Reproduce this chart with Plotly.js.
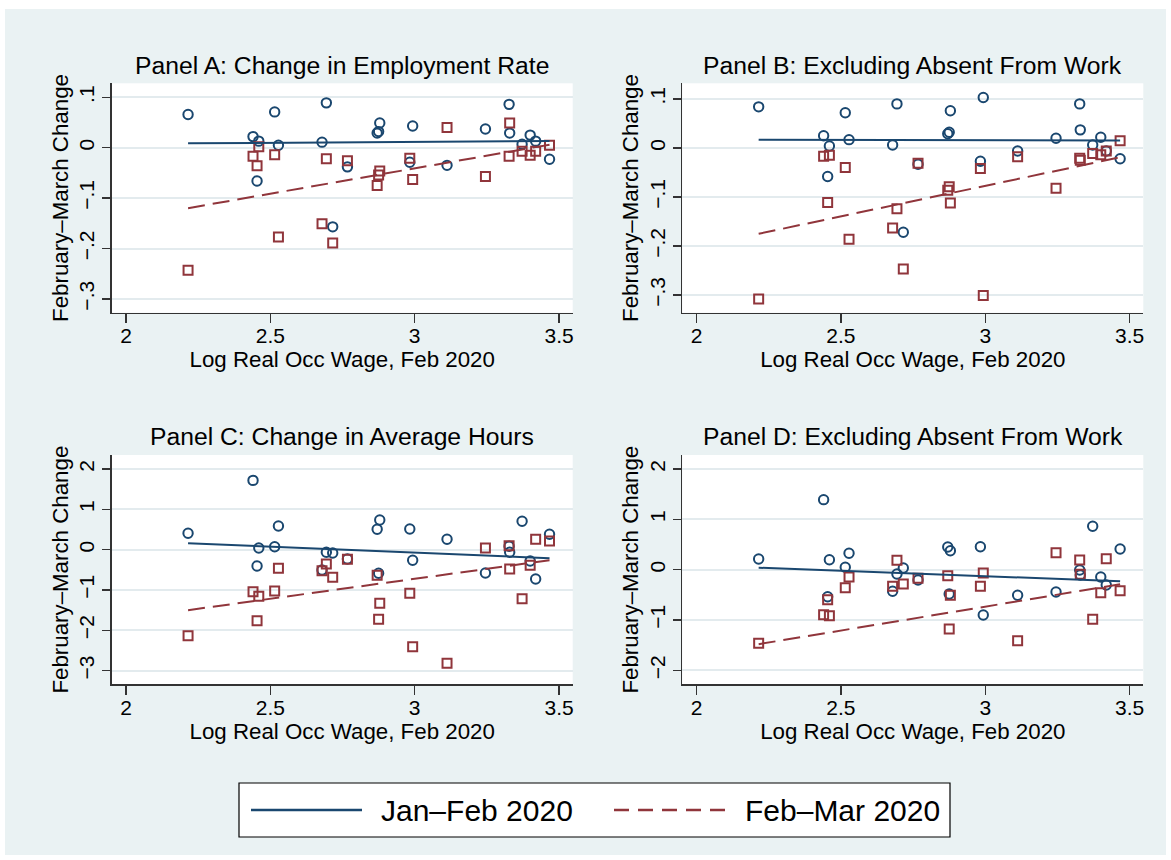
<!DOCTYPE html>
<html><head><meta charset="utf-8">
<script src="https://cdn.plot.ly/plotly-3.0.1.min.js"></script>
<style>html,body{margin:0;padding:0;background:#fff}</style>
</head><body><div id="chart" style="width:1171px;height:860px"></div>
<script>
// ---- data ----
const occWage = [2.215, 2.440, 2.454, 2.460, 2.515, 2.528, 2.679, 2.694, 2.716, 2.767, 2.870, 2.875, 2.879,
                 2.983, 2.993, 3.112, 3.245, 3.327, 3.329, 3.372, 3.400, 3.419, 3.467];

const janFebA = [0.066, 0.022, -0.066, 0.013, 0.071, 0.005, 0.011, 0.089, -0.157, -0.038, 0.029, 0.032, 0.049,
                 -0.029, 0.043, -0.035, 0.037, 0.086, 0.029, 0.007, 0.025, 0.013, -0.023];
const febMarA = [-0.243, -0.017, -0.036, 0.002, -0.014, -0.177, -0.151, -0.022, -0.189, -0.026, -0.075, -0.054, -0.046,
                 -0.021, -0.063, 0.040, -0.057, -0.017, 0.049, -0.007, -0.015, -0.007, 0.005];

const janFebB = [0.084, 0.025, -0.058, 0.004, 0.072, 0.017, 0.006, 0.090, -0.172, -0.033, 0.029, 0.032, 0.076,
                 -0.027, 0.103, -0.006, 0.020, 0.090, 0.037, 0.006, 0.022, -0.006, -0.022];
const febMarB = [-0.308, -0.017, -0.111, -0.015, -0.040, -0.186, -0.163, -0.124, -0.247, -0.031, -0.086, -0.079, -0.112,
                 -0.042, -0.301, -0.018, -0.082, -0.021, -0.025, -0.011, -0.014, -0.006, 0.015];

const janFebC = [0.407, 1.72, -0.404, 0.042, 0.074, 0.588, -0.504, -0.065, -0.082, -0.231, 0.506, -0.586, 0.737,
                 0.514, -0.263, 0.258, -0.578, 0.084, -0.065, 0.705, -0.28, -0.727, 0.382];
const febMarC = [-2.134, -1.042, -1.762, -1.157, -1.025, -0.462, -0.521, -0.355, -0.685, -0.238, -0.635, -1.727, -1.33,
                 -1.082, -2.407, -2.82, 0.042, 0.099, -0.479, -1.216, -0.387, 0.258, 0.216];

const janFebD = [0.213, 1.392, -0.537, 0.199, 0.048, 0.326, -0.429, -0.085, 0.034, -0.205, 0.451, -0.483, 0.378,
                 0.457, -0.9, -0.509, -0.443, -0.006, -0.105, 0.863, -0.145, -0.304, 0.412];
const febMarD = [-1.463, -0.895, -0.596, -0.914, -0.358, -0.145, -0.33, 0.187, -0.284, -0.172, -0.119, -1.179, -0.509,
                 -0.33, -0.066, -1.412, 0.338, 0.193, -0.092, -0.986, -0.457, 0.219, -0.417];

// fitted-line values at the lowest and highest wage
const fitJanA = [0.0087, 0.0133], fitFebA = [-0.120, 0.006];
const fitJanB = [0.017, 0.0155],  fitFebB = [-0.175, -0.019];
const fitJanC = [0.159, -0.21],   fitFebC = [-1.50, -0.26];
const fitJanD = [0.04, -0.23],    fitFebD = [-1.48, -0.29];

const panelTitles = ['Panel A: Change in Employment Rate', 'Panel B: Excluding Absent From Work',
                     'Panel C: Change in Average Hours', 'Panel D: Excluding Absent From Work'];
const seriesNames = ['Jan–Feb 2020', 'Feb–Mar 2020'];
const xTickVals = [2, 2.5, 3, 3.5];
const xTickText = ['2', '2.5', '3', '3.5'];
const yTickValsAB = [0.1, 0, -0.1, -0.2, -0.3];
const yTickTextAB = ['.1', '0', '−.1', '−.2', '−.3'];
const yTickValsC = [2, 1, 0, -1, -2, -3];
const yTickTextC = ['2', '1', '0', '−1', '−2', '−3'];
const yTickValsD = [2, 1, 0, -1, -2];
const yTickTextD = ['2', '1', '0', '−1', '−2'];
const xTitle = 'Log Real Occ Wage, Feb 2020';
const yTitle = 'February–March Change';

// ---- styling ----
const W = 1171, H = 860;
const NAVY = '#1A476F', MAROON = '#90353B', BG = '#EAF2F3', GRID = '#E3EBEE', AX = '#333333';
const FONT = 'Liberation Sans, Arial, Helvetica, sans-serif';
const px = v => v / W, py = v => 1 - v / H;

const colDom = [[111.7, 572.7], [682.3, 1143.3]];
const rowDom = [[83.3, 312.7], [455, 684.3]];
const yRanges = [[-0.3274, 0.1278], [-0.336, 0.132], [-3.34, 2.35], [-2.278, 2.28]];
const xRange = [1.9505, 3.5473];

const panels = [
  {jan: janFebA, feb: febMarA, fj: fitJanA, ff: fitFebA, tv: yTickValsAB, tt: yTickTextAB},
  {jan: janFebB, feb: febMarB, fj: fitJanB, ff: fitFebB, tv: yTickValsAB, tt: yTickTextAB},
  {jan: janFebC, feb: febMarC, fj: fitJanC, ff: fitFebC, tv: yTickValsC, tt: yTickTextC},
  {jan: janFebD, feb: febMarD, fj: fitJanD, ff: fitFebD, tv: yTickValsD, tt: yTickTextD}
];

const fitX = [occWage[0], occWage[occWage.length - 1]];
const traces = [];
const layout = {
  width: W, height: H,
  margin: {l: 0, r: 0, t: 0, b: 0, pad: 0},
  paper_bgcolor: BG, plot_bgcolor: '#ffffff',
  showlegend: false,
  font: {family: FONT, color: '#000', size: 21},
  annotations: [], shapes: []
};

panels.forEach((p, i) => {
  const n = i + 1;
  const xa = n === 1 ? 'x' : 'x' + n, ya = n === 1 ? 'y' : 'y' + n;
  const col = i % 2, row = Math.floor(i / 2);
  traces.push({x: occWage, y: p.jan, xaxis: xa, yaxis: ya, type: 'scatter', mode: 'markers', name: seriesNames[0],
    marker: {symbol: 'circle-open', size: 9.4, color: NAVY, line: {width: 2, color: NAVY}}, hoverinfo: 'skip'});
  traces.push({x: occWage, y: p.feb, xaxis: xa, yaxis: ya, type: 'scatter', mode: 'markers', name: seriesNames[1],
    marker: {symbol: 'square-open', size: 9, color: MAROON, line: {width: 2, color: MAROON}}, hoverinfo: 'skip'});
  traces.push({x: fitX, y: p.fj, xaxis: xa, yaxis: ya, type: 'scatter', mode: 'lines', name: seriesNames[0],
    line: {color: NAVY, width: 2}, hoverinfo: 'skip'});
  traces.push({x: fitX, y: p.ff, xaxis: xa, yaxis: ya, type: 'scatter', mode: 'lines', name: seriesNames[1],
    line: {color: MAROON, width: 2, dash: '17px,8px'}, hoverinfo: 'skip'});

  const xk = n === 1 ? 'xaxis' : 'xaxis' + n, yk = n === 1 ? 'yaxis' : 'yaxis' + n;
  layout[xk] = {
    domain: [px(colDom[col][0]), px(colDom[col][1])], anchor: ya, range: xRange,
    tickmode: 'array', tickvals: xTickVals, ticktext: xTickText,
    ticks: 'outside', ticklen: 9, tickwidth: 1.3, tickcolor: AX, ticklabelstandoff: -5,
    showline: true, linecolor: AX, linewidth: 1.3, showgrid: false, zeroline: false, fixedrange: true,
    tickfont: {family: FONT, size: 21, color: '#000'},
    title: {text: xTitle, font: {family: FONT, size: 22.3, color: '#000'}, standoff: 2}
  };
  layout[yk] = {
    domain: [py(rowDom[row][1]), py(rowDom[row][0])], anchor: xa, range: yRanges[i],
    tickmode: 'array', tickvals: p.tv, ticktext: p.tt, tickangle: -90,
    ticks: 'outside', ticklen: 8, tickwidth: 1.3, tickcolor: AX,
    showline: true, linecolor: AX, linewidth: 1.3, showgrid: true, gridcolor: GRID, gridwidth: 2,
    zeroline: false, fixedrange: true,
    tickfont: {family: FONT, size: 21, color: '#000'},
    title: {text: yTitle, font: {family: FONT, size: 22.3, color: '#000'}, standoff: 0}
  };
  layout.annotations.push({
    text: panelTitles[i], xref: 'paper', yref: 'paper', showarrow: false,
    x: px((colDom[col][0] + colDom[col][1]) / 2), y: py(row === 0 ? 65 : 436),
    xanchor: 'center', yanchor: 'middle', font: {family: FONT, size: 24.7, color: '#000'}
  });
});

// white border around the graph region
[[0, 0, W, 9], [0, 0, 5, H], [1166, 0, W, H], [0, 855, W, H]].forEach(r => {
  layout.shapes.push({type: 'rect', xref: 'paper', yref: 'paper', x0: px(r[0]), x1: px(r[2]), y0: py(r[3]), y1: py(r[1]),
    line: {width: 0}, fillcolor: '#ffffff', layer: 'below'});
});

// legend box
layout.shapes.push({type: 'rect', xref: 'paper', yref: 'paper', x0: px(239), x1: px(950), y0: py(837), y1: py(783),
  line: {color: '#000', width: 1.2}, fillcolor: '#ffffff'});
layout.shapes.push({type: 'line', xref: 'paper', yref: 'paper', x0: px(251), x1: px(362), y0: py(810), y1: py(810),
  line: {color: NAVY, width: 2.5}});
layout.shapes.push({type: 'line', xref: 'paper', yref: 'paper', x0: px(614), x1: px(726), y0: py(810), y1: py(810),
  line: {color: MAROON, width: 2.5, dash: '15px,9px'}});
layout.annotations.push({text: seriesNames[0], xref: 'paper', yref: 'paper', x: px(379), y: py(810),
  xanchor: 'left', yanchor: 'middle', showarrow: false, font: {family: FONT, size: 30, color: '#000'}});
layout.annotations.push({text: seriesNames[1], xref: 'paper', yref: 'paper', x: px(743), y: py(810),
  xanchor: 'left', yanchor: 'middle', showarrow: false, font: {family: FONT, size: 30, color: '#000'}});

Plotly.newPlot('chart', traces, layout, {displayModeBar: false, staticPlot: true});
</script>
</body></html>
